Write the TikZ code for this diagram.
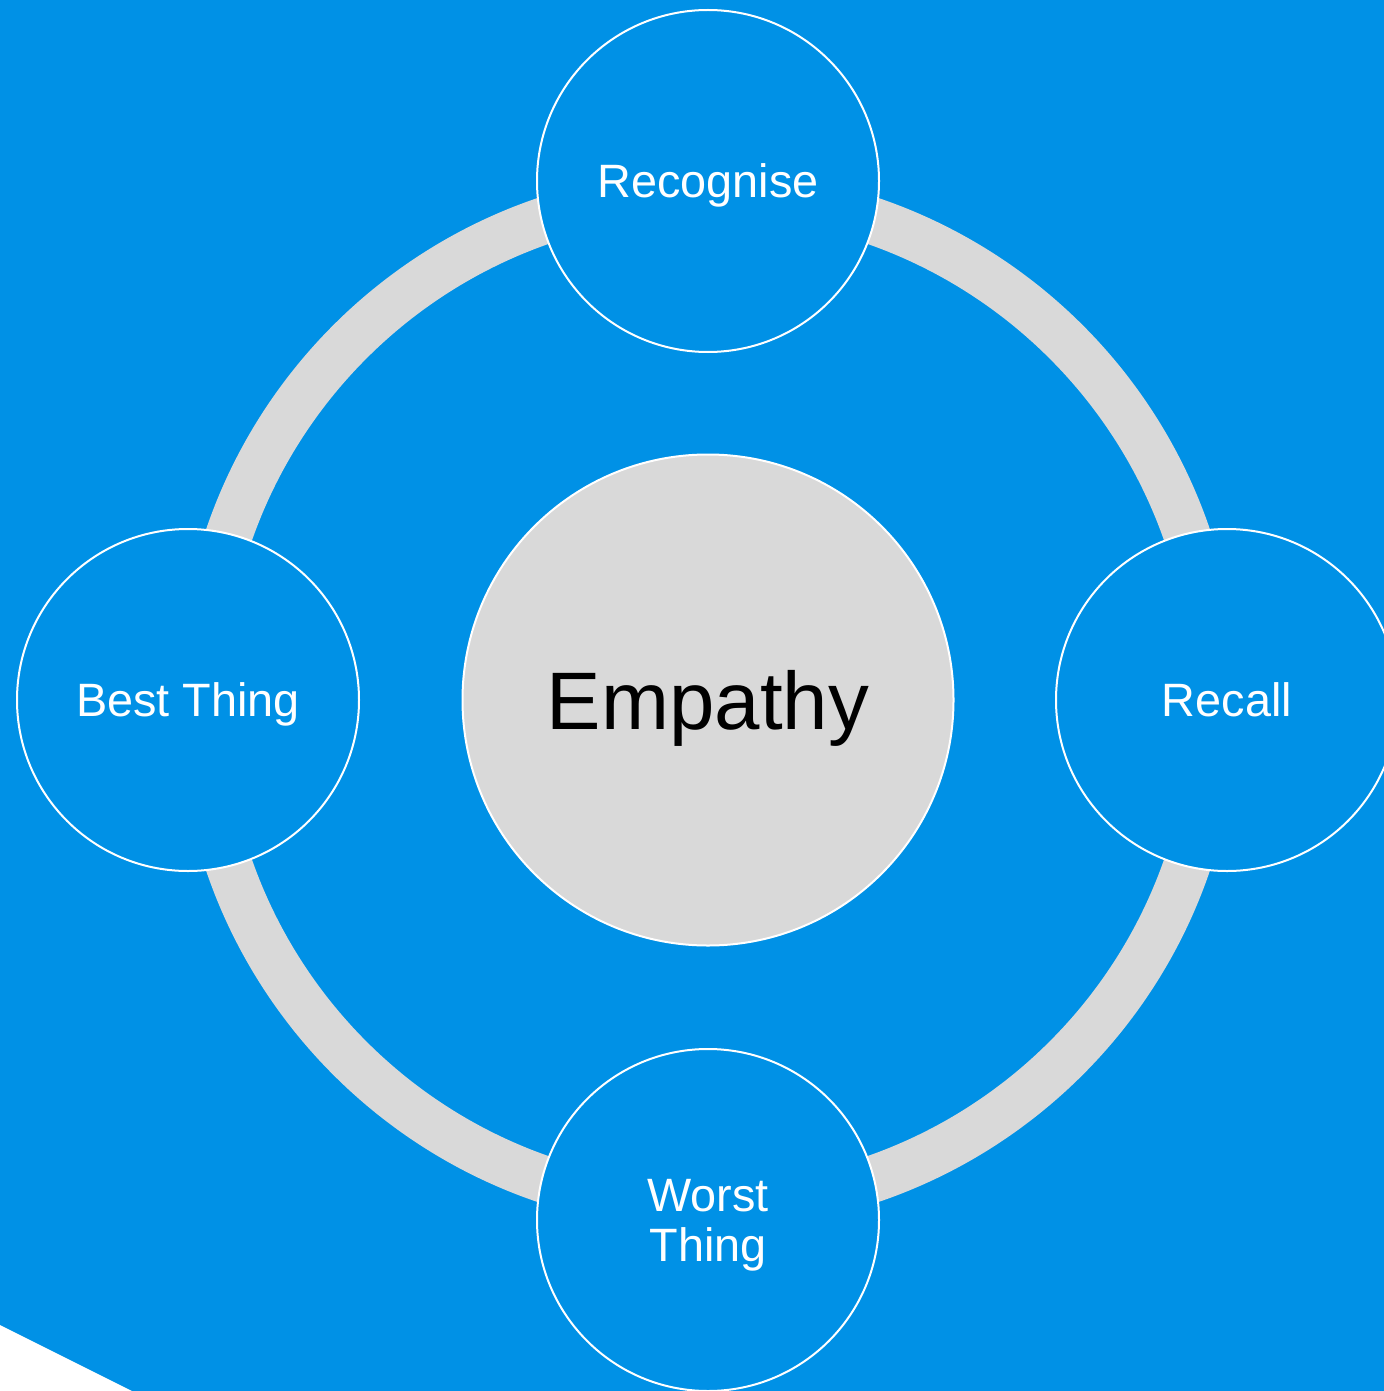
\documentclass[tikz,border=0pt]{standalone}
\usepackage{fontspec}
\setmainfont{Liberation Sans}
\definecolor{bgblue}{HTML}{0091E6}
\definecolor{ringgray}{HTML}{D9D9D9}
\begin{document}
\begin{tikzpicture}[x=0.5pt,y=-0.5pt]
\tikzset{stage/.style={circle,draw=white,line width=1pt,fill=bgblue,text=white,minimum size=171pt,inner sep=0pt,text depth=0pt,align=center,font=\fontsize{23.4}{25}\selectfont},
hub/.style={circle,draw=white,line width=1pt,fill=ringgray,text=black,minimum size=245.5pt,inner sep=0pt,text depth=0pt,font=\fontsize{40.8}{44}\selectfont}}
\fill[bgblue] (0,0) rectangle (1384,1391);
\useasboundingbox (0,0) rectangle (1384,1391);
\fill[white] (0,1325) -- (132,1391) -- (0,1391) -- cycle;
% ring behind the stages
\draw[ringgray,line width=23.5pt] (708,700) circle (506.5);
\node[hub] (empathy) at (708,700) {Empathy};
\node[stage] (recognise) at (708,181) {Recognise};
\node[stage] (recall) at (1227,700) {Recall};
\node[stage] (worst) at (708,1220) {Worst\\Thing};
\node[stage] (best) at (188,700) {Best Thing};
\end{tikzpicture}
\end{document}
